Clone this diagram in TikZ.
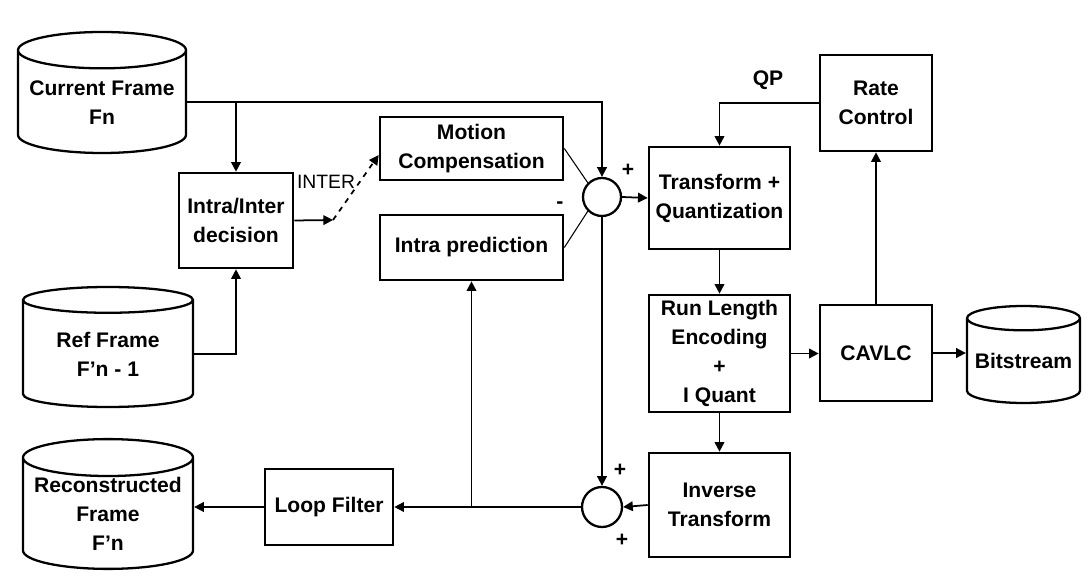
\documentclass[tikz,border=0pt]{standalone}
\usepackage{fontspec}
\setmainfont{Liberation Sans}
\usetikzlibrary{arrows.meta,positioning,shapes.geometric}

\begin{document}
\begin{tikzpicture}[
          x=1cm, y=1cm,
          txt/.style={font=\bfseries\fontsize{12}{16.5}\selectfont, align=center},
          blk/.style={txt, draw, line width=1.5pt, inner sep=0pt},
          db/.style={txt, cylinder, shape border rotate=90, draw, line width=1.3pt,
                     aspect=0.25, inner sep=0pt},
          sumc/.style={circle, draw, line width=1.3pt, inner sep=0pt},
          arr/.style={-{Triangle[length=5.5pt,width=5.5pt]}, line width=1pt},
          thin/.style={line width=0.6pt}
      ]
        \useasboundingbox (0,0) rectangle (21.82,11.6);
        % frame stores
        \node[db, minimum width=3.36cm, minimum height=2.42cm, anchor=shape center] (cur) at (2.04,9.75) {Current Frame\\Fn};
        \node[db, minimum width=3.40cm, minimum height=2.40cm, anchor=shape center] (ref) at (2.16,4.66) {Ref Frame\\F'n - 1};
        \node[db, minimum width=3.40cm, minimum height=2.44cm, anchor=shape center] (rec) at (2.16,1.52) {Reconstructed\\Frame\\F'n};
        \node[db, minimum width=2.26cm, minimum height=1.94cm, anchor=shape center] (bits) at (20.47,4.51) {Bitstream};
        % blocks
        \node[blk, minimum width=2.28cm, minimum height=1.90cm] (dec) at (4.72,7.19) {Intra/Inter\\decision};
        \node[blk, minimum width=3.66cm, minimum height=1.26cm] (mc) at (9.43,8.63) {Motion\\Compensation};
        \node[blk, minimum width=3.66cm, minimum height=1.30cm] (ip) at (9.43,6.65) {Intra prediction};
        \node[blk, minimum width=2.82cm, minimum height=2.04cm] (tq) at (14.39,7.64) {Transform +\\Quantization};
        \node[blk, minimum width=2.24cm, minimum height=1.92cm] (rc) at (17.52,9.54) {Rate\\Control};
        \node[blk, minimum width=2.82cm, minimum height=2.34cm] (rle) at (14.39,4.53) {Run Length\\Encoding\\+\\I Quant};
        \node[blk, minimum width=2.82cm, minimum height=2.08cm] (it) at (14.39,1.50) {Inverse\\Transform};
        \node[blk, minimum width=2.24cm, minimum height=1.92cm] (cavlc) at (17.52,4.54) {CAVLC};
        \node[blk, minimum width=2.56cm, minimum height=1.52cm] (lf) at (6.58,1.46) {Loop Filter};
        \node[sumc, minimum size=0.76cm] (sum1) at (12.04,7.66) {};
        \node[sumc, minimum size=0.80cm] (sum2) at (12.04,1.46) {};
        \coordinate (sw) at (6.66,7.20);
        % signs and labels
        \node[txt] (p1) at (12.56,8.20) {+};
        \node[txt] (m1) at (11.20,7.50) {-};
        \node[txt] (p2) at (12.40,2.20) {+};
        \node[txt] (p3) at (12.44,0.80) {+};
        \node[txt] (qp) at (15.36,10.0) {QP};
        \node[font=\fontsize{11}{13}\selectfont] (inter) at (6.52,7.96) {INTER};
        % connections
        \draw[arr] (cur.east) -| (sum1.north);
        \draw[arr] (cur.east -| dec.north) -- (dec.north);
        \draw[arr] (ref.east) -| (dec.south);
        \draw[arr] (dec.east) -- (sw);
        \draw[arr, dashed] (sw) -- ([yshift=-0.13cm]mc.west);
        \draw[thin] (mc.east) -- (sum1.135);
        \draw[thin] (ip.east) -- (sum1.225);
        \draw[arr] (sum1.east) -- (tq.west);
        \draw[arr] (rc.west) -| (tq.north);
        \draw[arr] (tq.south) -- (rle.north);
        \draw[arr] (rle.south) -- (it.north);
        \draw[arr] (rle.east) -- (rle.east -| cavlc.west);
        \draw[arr] (cavlc.east) -- (cavlc.east -| bits.west);
        \draw[arr] (cavlc.north) -- (rc.south);
        \draw[arr] (sum1.south) -- (sum2.north);
        \draw[arr] (it.west) -- (sum2.east);
        \draw[arr] (sum2.west) -- (lf.east);
        \draw[arr] (sum2.west -| ip.south) -- (ip.south);
        \draw[arr] (lf.west) -- (lf.west -| rec.east);
      \end{tikzpicture}
\end{document}
